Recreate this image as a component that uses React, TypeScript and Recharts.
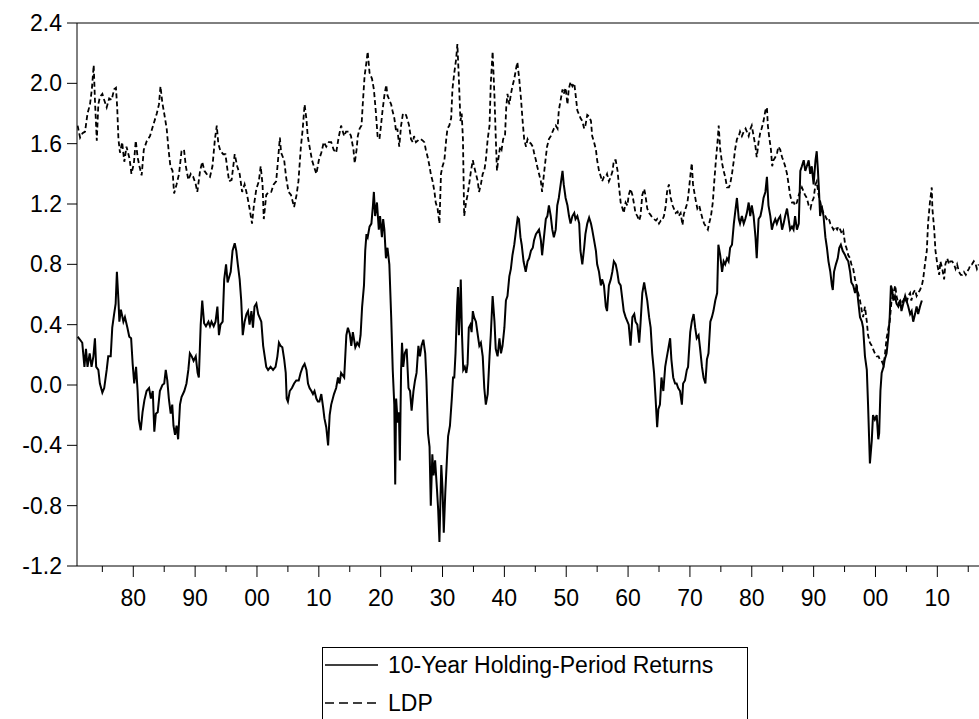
import React from 'react'
import { LineChart, Line, XAxis, YAxis, ReferenceLine } from 'recharts'

const ldpSeries: [number, number][] = [
  [1871.0, 1.72], [1871.4, 1.64], [1871.8, 1.67], [1872.2, 1.68], [1872.6, 1.8], [1873.0, 1.86], [1873.3, 1.96], [1873.6, 2.12],
  [1873.8, 1.89], [1874.1, 1.62], [1874.35, 1.86], [1874.6, 1.91], [1875.0, 1.93], [1875.3, 1.89], [1875.7, 1.84], [1876.1, 1.9],
  [1876.5, 1.89], [1876.9, 1.96], [1877.2, 1.97], [1877.4, 1.84], [1877.6, 1.63], [1877.85, 1.54], [1878.2, 1.61], [1878.55, 1.48],
  [1878.9, 1.58], [1879.4, 1.5], [1879.7, 1.4], [1880.1, 1.47], [1880.4, 1.62], [1880.7, 1.51], [1881.0, 1.45], [1881.35, 1.39],
  [1881.7, 1.56], [1882.2, 1.62], [1882.7, 1.65], [1883.2, 1.72], [1883.8, 1.8], [1884.15, 1.86], [1884.4, 1.98], [1884.7, 1.87],
  [1885.0, 1.8], [1885.4, 1.7], [1885.7, 1.56], [1886.0, 1.45], [1886.35, 1.42], [1886.6, 1.27], [1887.0, 1.33], [1887.4, 1.4],
  [1887.8, 1.55], [1888.2, 1.56], [1888.5, 1.45], [1888.9, 1.36], [1889.3, 1.4], [1889.7, 1.38], [1890.1, 1.33], [1890.35, 1.28],
  [1890.8, 1.42], [1891.15, 1.48], [1891.5, 1.42], [1891.85, 1.4], [1892.4, 1.38], [1892.8, 1.45], [1893.2, 1.63], [1893.5, 1.72],
  [1893.75, 1.6], [1894.1, 1.55], [1894.55, 1.53], [1894.9, 1.53], [1895.25, 1.42], [1895.5, 1.35], [1895.9, 1.36], [1896.4, 1.53],
  [1896.8, 1.45], [1897.2, 1.4], [1897.6, 1.28], [1898.0, 1.33], [1898.4, 1.26], [1898.8, 1.17], [1899.2, 1.07], [1899.5, 1.19],
  [1899.9, 1.3], [1900.3, 1.35], [1900.6, 1.45], [1900.9, 1.33], [1901.1, 1.1], [1901.5, 1.26], [1901.9, 1.28], [1902.3, 1.28],
  [1902.7, 1.33], [1903.1, 1.35], [1903.4, 1.49], [1903.7, 1.64], [1903.9, 1.54], [1904.4, 1.49], [1904.7, 1.38], [1905.1, 1.28],
  [1905.5, 1.26], [1906.0, 1.18], [1906.4, 1.26], [1906.7, 1.35], [1907.1, 1.58], [1907.4, 1.7], [1907.7, 1.86], [1908.0, 1.76],
  [1908.2, 1.65], [1908.5, 1.58], [1908.9, 1.49], [1909.2, 1.45], [1909.6, 1.4], [1910.0, 1.49], [1910.4, 1.54], [1910.8, 1.61],
  [1911.2, 1.58], [1911.6, 1.61], [1912.0, 1.61], [1912.4, 1.56], [1912.8, 1.54], [1913.2, 1.64], [1913.6, 1.72], [1914.1, 1.65],
  [1914.4, 1.68], [1914.9, 1.68], [1915.2, 1.65], [1915.6, 1.56], [1915.8, 1.47], [1916.1, 1.56], [1916.3, 1.65], [1916.6, 1.7],
  [1916.9, 1.72], [1917.1, 1.86], [1917.4, 2.05], [1917.7, 2.14], [1917.9, 2.21], [1918.2, 2.07], [1918.6, 2.03], [1918.9, 1.96],
  [1919.2, 1.82], [1919.5, 1.65], [1919.8, 1.63], [1920.05, 1.72], [1920.3, 1.82], [1920.6, 1.92], [1920.9, 1.99], [1921.1, 1.92],
  [1921.4, 1.89], [1921.7, 1.86], [1921.9, 1.82], [1922.2, 1.77], [1922.5, 1.68], [1922.7, 1.7], [1923.0, 1.58], [1923.3, 1.72],
  [1923.6, 1.8], [1923.8, 1.8], [1924.1, 1.79], [1924.4, 1.75], [1924.6, 1.72], [1924.9, 1.63], [1925.2, 1.61], [1925.4, 1.65],
  [1925.7, 1.61], [1926.0, 1.62], [1926.2, 1.63], [1926.5, 1.63], [1926.8, 1.62], [1927.05, 1.61], [1927.3, 1.56], [1927.6, 1.51],
  [1927.9, 1.45], [1928.1, 1.4], [1928.4, 1.35], [1928.7, 1.28], [1928.9, 1.21], [1929.2, 1.17], [1929.5, 1.07], [1929.75, 1.4],
  [1930.0, 1.45], [1930.3, 1.49], [1930.6, 1.63], [1930.8, 1.7], [1931.1, 1.72], [1931.4, 1.77], [1931.6, 1.96], [1931.9, 2.07],
  [1932.2, 2.16], [1932.4, 2.26], [1932.6, 2.07], [1932.9, 1.75], [1933.1, 1.8], [1933.3, 1.63], [1933.5, 1.12], [1933.8, 1.21],
  [1934.05, 1.26], [1934.3, 1.33], [1934.6, 1.42], [1934.9, 1.49], [1935.1, 1.45], [1935.4, 1.4], [1935.7, 1.35], [1935.9, 1.28],
  [1936.2, 1.33], [1936.5, 1.4], [1936.75, 1.42], [1937.0, 1.49], [1937.3, 1.63], [1937.6, 1.72], [1937.8, 2.0], [1938.1, 2.21],
  [1938.4, 1.91], [1938.6, 1.65], [1938.8, 1.42], [1939.0, 1.49], [1939.3, 1.58], [1939.55, 1.56], [1939.8, 1.63], [1940.1, 1.65],
  [1940.3, 1.84], [1940.5, 1.93], [1940.8, 1.86], [1941.06, 1.93], [1941.3, 1.98], [1941.6, 2.03], [1941.9, 2.1], [1942.1, 2.14],
  [1942.4, 2.03], [1942.7, 1.89], [1942.95, 1.75], [1943.2, 1.63], [1943.5, 1.58], [1943.75, 1.63], [1944.0, 1.61], [1944.3, 1.6],
  [1944.6, 1.58], [1944.8, 1.54], [1945.1, 1.49], [1945.3, 1.45], [1945.6, 1.4], [1945.9, 1.35], [1946.1, 1.28], [1946.4, 1.4],
  [1946.7, 1.51], [1946.9, 1.58], [1947.2, 1.63], [1947.5, 1.65], [1947.8, 1.68], [1948.0, 1.7], [1948.3, 1.72], [1948.6, 1.7],
  [1948.8, 1.82], [1949.1, 1.89], [1949.4, 1.96], [1949.6, 1.93], [1949.9, 1.97], [1950.2, 1.86], [1950.4, 1.96], [1950.7, 2.01],
  [1951.0, 1.98], [1951.3, 2.0], [1951.5, 1.93], [1951.8, 1.82], [1952.1, 1.79], [1952.3, 1.77], [1952.6, 1.75], [1952.9, 1.7],
  [1953.1, 1.72], [1953.4, 1.79], [1953.7, 1.78], [1954.0, 1.75], [1954.2, 1.65], [1954.5, 1.61], [1954.8, 1.56], [1955.0, 1.49],
  [1955.3, 1.42], [1955.6, 1.38], [1955.8, 1.35], [1956.1, 1.38], [1956.4, 1.38], [1956.6, 1.4], [1956.9, 1.35], [1957.2, 1.38],
  [1957.5, 1.42], [1957.7, 1.49], [1958.0, 1.49], [1958.3, 1.42], [1958.5, 1.33], [1958.8, 1.21], [1959.1, 1.17], [1959.3, 1.14],
  [1959.6, 1.21], [1959.9, 1.19], [1960.1, 1.26], [1960.4, 1.3], [1960.7, 1.26], [1961.0, 1.19], [1961.2, 1.14], [1961.5, 1.12],
  [1961.8, 1.09], [1962.0, 1.12], [1962.3, 1.26], [1962.6, 1.3], [1962.8, 1.26], [1963.1, 1.17], [1963.4, 1.14], [1963.6, 1.13],
  [1963.9, 1.11], [1964.2, 1.1], [1964.5, 1.09], [1964.7, 1.1], [1965.0, 1.07], [1965.3, 1.09], [1965.5, 1.09], [1965.8, 1.12],
  [1966.1, 1.19], [1966.3, 1.28], [1966.6, 1.33], [1966.9, 1.24], [1967.2, 1.19], [1967.4, 1.17], [1967.7, 1.14], [1968.0, 1.15],
  [1968.2, 1.12], [1968.5, 1.14], [1968.8, 1.06], [1969.0, 1.13], [1969.3, 1.17], [1969.6, 1.21], [1969.8, 1.28], [1970.1, 1.4],
  [1970.3, 1.47], [1970.5, 1.33], [1970.7, 1.28], [1971.0, 1.21], [1971.2, 1.17], [1971.5, 1.19], [1971.8, 1.14], [1972.05, 1.1],
  [1972.3, 1.07], [1972.6, 1.05], [1972.9, 1.03], [1973.1, 1.07], [1973.4, 1.12], [1973.7, 1.21], [1973.9, 1.33], [1974.2, 1.49],
  [1974.5, 1.63], [1974.65, 1.72], [1974.9, 1.56], [1975.2, 1.47], [1975.45, 1.42], [1975.7, 1.38], [1976.0, 1.31], [1976.3, 1.31],
  [1976.5, 1.33], [1976.8, 1.4], [1977.1, 1.49], [1977.3, 1.56], [1977.6, 1.63], [1977.9, 1.65], [1978.1, 1.68], [1978.4, 1.65],
  [1978.7, 1.68], [1979.0, 1.7], [1979.2, 1.68], [1979.5, 1.65], [1979.8, 1.7], [1980.0, 1.72], [1980.3, 1.65], [1980.6, 1.58],
  [1980.8, 1.51], [1981.1, 1.61], [1981.4, 1.68], [1981.6, 1.7], [1981.9, 1.75], [1982.2, 1.82], [1982.45, 1.84], [1982.6, 1.72],
  [1982.8, 1.65], [1983.1, 1.56], [1983.3, 1.45], [1983.5, 1.49], [1983.8, 1.51], [1984.1, 1.54], [1984.3, 1.58], [1984.6, 1.56],
  [1984.9, 1.51], [1985.1, 1.49], [1985.4, 1.45], [1985.7, 1.4], [1985.95, 1.33], [1986.2, 1.26], [1986.5, 1.21], [1986.8, 1.21],
  [1987.0, 1.19], [1987.3, 1.21], [1987.6, 1.26], [1987.8, 1.28], [1988.1, 1.31], [1988.4, 1.28], [1988.6, 1.26], [1988.9, 1.24],
  [1989.2, 1.19], [1989.5, 1.17], [1989.7, 1.21], [1990.0, 1.24], [1990.3, 1.33], [1990.5, 1.35], [1990.8, 1.26], [1991.1, 1.21],
  [1991.3, 1.17], [1991.6, 1.14], [1991.9, 1.12], [1992.1, 1.1], [1992.4, 1.11], [1992.7, 1.07], [1992.95, 1.05], [1993.2, 1.03],
  [1993.5, 1.05], [1993.8, 1.03], [1994.0, 1.05], [1994.3, 1.03], [1994.6, 1.0], [1994.8, 1.02], [1995.1, 0.93], [1995.3, 0.91],
  [1995.6, 0.86], [1995.9, 0.84], [1996.1, 0.8], [1996.4, 0.77], [1996.7, 0.7], [1996.95, 0.66], [1997.2, 0.61], [1997.5, 0.56],
  [1997.8, 0.49], [1998.0, 0.45], [1998.3, 0.52], [1998.6, 0.42], [1998.8, 0.33], [1999.1, 0.28], [1999.4, 0.26], [1999.6, 0.24],
  [1999.9, 0.21], [2000.2, 0.19], [2000.5, 0.19], [2000.7, 0.17], [2001.0, 0.16], [2001.3, 0.13], [2001.5, 0.19], [2001.8, 0.31],
  [2002.1, 0.38], [2002.3, 0.42], [2002.6, 0.56], [2002.9, 0.61], [2003.2, 0.66], [2003.4, 0.59], [2003.7, 0.54], [2004.0, 0.56],
  [2004.2, 0.54], [2004.5, 0.56], [2004.8, 0.59], [2005.0, 0.54], [2005.3, 0.59], [2005.6, 0.61], [2005.8, 0.56], [2006.1, 0.61],
  [2006.4, 0.63], [2006.65, 0.59], [2006.9, 0.61], [2007.2, 0.63], [2007.5, 0.66], [2007.7, 0.7], [2008.0, 0.8], [2008.3, 0.89],
  [2008.5, 1.07], [2008.8, 1.21], [2009.1, 1.31], [2009.2, 1.17], [2009.5, 1.03], [2009.7, 0.89], [2010.0, 0.8], [2010.3, 0.73],
  [2010.5, 0.82], [2010.8, 0.77], [2011.1, 0.7], [2011.3, 0.8], [2011.6, 0.84], [2011.9, 0.8], [2012.1, 0.82], [2012.4, 0.82],
  [2012.7, 0.8], [2012.95, 0.77], [2013.2, 0.8], [2013.5, 0.75], [2013.8, 0.73], [2014.0, 0.73], [2014.3, 0.75], [2014.6, 0.73],
  [2014.8, 0.75], [2015.1, 0.77], [2015.4, 0.8], [2015.6, 0.8], [2015.9, 0.82], [2016.2, 0.8], [2016.4, 0.77], [2016.7, 0.8],
]

const returnSeries: [number, number][] = [
  [1871.0, 0.32], [1871.4, 0.3], [1871.75, 0.28], [1872.1, 0.12], [1872.35, 0.24], [1872.6, 0.12], [1872.95, 0.21], [1873.25, 0.12],
  [1873.55, 0.19], [1873.8, 0.31], [1874.0, 0.12], [1874.35, 0.1], [1874.6, 0.01], [1875.0, -0.05], [1875.3, -0.02], [1875.7, 0.1],
  [1875.95, 0.19], [1876.35, 0.19], [1876.6, 0.38], [1876.9, 0.47], [1877.15, 0.54], [1877.35, 0.75], [1877.6, 0.56], [1877.75, 0.42],
  [1878.0, 0.5], [1878.4, 0.42], [1878.65, 0.45], [1879.05, 0.38], [1879.35, 0.32], [1879.65, 0.31], [1879.9, 0.14], [1880.15, 0.01],
  [1880.45, 0.12], [1880.7, -0.04], [1880.9, -0.23], [1881.2, -0.3], [1881.5, -0.18], [1881.8, -0.1], [1882.15, -0.04], [1882.55, -0.02],
  [1882.85, -0.09], [1883.15, -0.04], [1883.4, -0.31], [1883.65, -0.19], [1883.95, -0.18], [1884.3, -0.04], [1884.7, 0.0], [1885.0, 0.01],
  [1885.25, 0.1], [1885.5, 0.03], [1885.75, -0.09], [1886.05, -0.19], [1886.3, -0.13], [1886.5, -0.27], [1886.75, -0.33], [1887.0, -0.27],
  [1887.25, -0.36], [1887.55, -0.13], [1887.8, -0.08], [1888.25, -0.04], [1888.6, 0.01], [1888.9, 0.1], [1889.15, 0.21], [1889.45, 0.19],
  [1889.75, 0.16], [1890.1, 0.19], [1890.4, 0.08], [1890.6, 0.05], [1890.9, 0.4], [1891.15, 0.56], [1891.45, 0.41], [1891.75, 0.39],
  [1892.15, 0.42], [1892.4, 0.39], [1892.65, 0.42], [1893.0, 0.39], [1893.3, 0.42], [1893.6, 0.52], [1893.85, 0.33], [1894.1, 0.4],
  [1894.45, 0.42], [1894.7, 0.7], [1895.0, 0.8], [1895.25, 0.68], [1895.75, 0.75], [1896.05, 0.89], [1896.4, 0.94], [1896.65, 0.89],
  [1896.9, 0.8], [1897.2, 0.7], [1897.45, 0.56], [1897.7, 0.33], [1898.0, 0.42], [1898.3, 0.47], [1898.55, 0.49], [1898.8, 0.4],
  [1899.1, 0.49], [1899.35, 0.38], [1899.6, 0.52], [1899.9, 0.54], [1900.2, 0.47], [1900.4, 0.45], [1900.7, 0.42], [1901.0, 0.26],
  [1901.25, 0.19], [1901.5, 0.12], [1901.8, 0.1], [1902.2, 0.12], [1902.6, 0.1], [1903.0, 0.12], [1903.3, 0.19], [1903.55, 0.28],
  [1903.8, 0.26], [1904.1, 0.25], [1904.4, 0.17], [1904.65, 0.08], [1904.8, -0.09], [1905.0, -0.11], [1905.3, -0.04], [1905.65, -0.02],
  [1906.0, 0.01], [1906.35, 0.03], [1906.75, 0.03], [1907.05, 0.08], [1907.4, 0.12], [1907.7, 0.14], [1908.0, 0.1], [1908.25, 0.01],
  [1908.5, -0.02], [1908.8, -0.04], [1909.05, -0.06], [1909.3, -0.04], [1909.6, -0.09], [1909.85, -0.11], [1910.1, -0.11], [1910.4, -0.06],
  [1910.7, -0.15], [1910.9, -0.22], [1911.2, -0.28], [1911.5, -0.4], [1911.75, -0.2], [1912.0, -0.13], [1912.45, -0.06], [1912.8, -0.02],
  [1913.1, 0.05], [1913.35, 0.01], [1913.6, 0.08], [1914.1, 0.05], [1914.45, 0.33], [1914.7, 0.38], [1915.0, 0.34], [1915.25, 0.26],
  [1915.5, 0.35], [1915.9, 0.25], [1916.2, 0.28], [1916.5, 0.26], [1916.75, 0.33], [1917.0, 0.52], [1917.3, 0.66], [1917.5, 0.89],
  [1917.7, 1.0], [1917.9, 0.98], [1918.2, 1.05], [1918.5, 1.07], [1918.75, 1.19], [1918.9, 1.28], [1919.1, 1.12], [1919.4, 1.21],
  [1919.7, 1.03], [1919.9, 1.12], [1920.2, 0.98], [1920.4, 1.1], [1920.6, 1.03], [1920.85, 0.84], [1921.1, 0.91], [1921.4, 0.8],
  [1921.7, 0.45], [1921.95, 0.1], [1922.2, -0.13], [1922.35, -0.66], [1922.5, -0.09], [1922.75, -0.25], [1922.95, -0.18], [1923.1, -0.5],
  [1923.3, 0.1], [1923.45, 0.28], [1923.65, 0.12], [1923.9, 0.21], [1924.2, 0.24], [1924.5, -0.02], [1924.75, -0.04], [1925.0, -0.17],
  [1925.3, -0.04], [1925.55, 0.03], [1925.8, 0.08], [1926.1, 0.26], [1926.35, 0.19], [1926.6, 0.26], [1926.9, 0.3], [1927.2, 0.21],
  [1927.4, 0.03], [1927.65, -0.32], [1927.9, -0.41], [1928.1, -0.8], [1928.35, -0.46], [1928.55, -0.6], [1928.8, -0.5], [1929.1, -0.69],
  [1929.3, -0.83], [1929.5, -1.04], [1929.65, -0.78], [1929.8, -0.53], [1930.0, -0.69], [1930.2, -0.98], [1930.45, -0.71], [1930.7, -0.5],
  [1930.9, -0.34], [1931.2, -0.27], [1931.5, -0.09], [1931.7, 0.05], [1931.9, 0.05], [1932.1, 0.21], [1932.35, 0.52], [1932.5, 0.65],
  [1932.65, 0.33], [1932.8, 0.49], [1932.95, 0.7], [1933.15, 0.33], [1933.35, 0.1], [1933.6, 0.12], [1933.85, 0.08], [1934.05, 0.14],
  [1934.25, 0.38], [1934.5, 0.4], [1934.7, 0.35], [1934.9, 0.49], [1935.1, 0.45], [1935.4, 0.42], [1935.7, 0.33], [1935.95, 0.26],
  [1936.2, 0.28], [1936.5, 0.19], [1936.75, -0.02], [1937.0, -0.13], [1937.3, -0.06], [1937.6, 0.19], [1937.8, 0.33], [1938.1, 0.59],
  [1938.4, 0.42], [1938.6, 0.24], [1938.9, 0.19], [1939.2, 0.31], [1939.45, 0.21], [1939.7, 0.26], [1940.0, 0.38], [1940.25, 0.56],
  [1940.5, 0.59], [1940.8, 0.72], [1941.05, 0.77], [1941.3, 0.86], [1941.6, 0.93], [1941.9, 1.03], [1942.15, 1.11], [1942.35, 1.1],
  [1942.6, 0.98], [1942.8, 0.93], [1943.1, 0.82], [1943.45, 0.75], [1943.75, 0.82], [1944.0, 0.84], [1944.3, 0.89], [1944.6, 0.91],
  [1944.8, 0.96], [1945.1, 1.0], [1945.6, 1.03], [1945.9, 0.96], [1946.1, 0.86], [1946.4, 0.98], [1946.7, 1.1], [1946.95, 1.12],
  [1947.2, 1.19], [1947.5, 1.12], [1947.75, 1.03], [1948.0, 0.98], [1948.3, 1.03], [1948.55, 1.19], [1948.8, 1.24], [1949.1, 1.33],
  [1949.4, 1.42], [1949.6, 1.33], [1949.9, 1.24], [1950.2, 1.19], [1950.45, 1.12], [1950.7, 1.07], [1951.0, 1.12], [1951.3, 1.14],
  [1951.5, 1.1], [1951.8, 1.12], [1952.1, 1.07], [1952.3, 0.89], [1952.6, 0.8], [1952.9, 0.91], [1953.1, 1.0], [1953.4, 1.07],
  [1953.7, 1.11], [1954.0, 1.07], [1954.2, 1.03], [1954.5, 0.96], [1954.8, 0.89], [1955.0, 0.8], [1955.3, 0.75], [1955.6, 0.66],
  [1955.8, 0.7], [1956.1, 0.66], [1956.4, 0.52], [1956.6, 0.49], [1956.9, 0.66], [1957.2, 0.7], [1957.45, 0.75], [1957.7, 0.82],
  [1958.0, 0.8], [1958.25, 0.75], [1958.5, 0.68], [1958.8, 0.66], [1959.1, 0.56], [1959.3, 0.49], [1959.6, 0.45], [1959.9, 0.42],
  [1960.1, 0.4], [1960.4, 0.26], [1960.7, 0.45], [1961.0, 0.47], [1961.2, 0.42], [1961.5, 0.4], [1961.8, 0.28], [1962.0, 0.4],
  [1962.3, 0.61], [1962.6, 0.68], [1962.8, 0.63], [1963.1, 0.56], [1963.4, 0.45], [1963.65, 0.38], [1963.9, 0.21], [1964.2, 0.08],
  [1964.45, -0.09], [1964.7, -0.28], [1964.9, -0.16], [1965.15, -0.13], [1965.4, 0.05], [1965.7, -0.04], [1966.0, 0.12], [1966.2, 0.17],
  [1966.5, 0.24], [1966.8, 0.31], [1967.0, 0.17], [1967.3, 0.05], [1967.6, 0.01], [1967.85, 0.01], [1968.1, -0.02], [1968.4, -0.04],
  [1968.7, -0.13], [1968.9, 0.01], [1969.2, 0.03], [1969.5, 0.1], [1969.7, 0.12], [1969.8, 0.19], [1970.05, 0.35], [1970.3, 0.42],
  [1970.6, 0.47], [1970.85, 0.38], [1971.1, 0.31], [1971.4, 0.33], [1971.65, 0.24], [1971.95, 0.12], [1972.2, 0.05], [1972.5, 0.01],
  [1972.75, 0.17], [1973.0, 0.21], [1973.3, 0.42], [1973.55, 0.45], [1973.8, 0.49], [1974.1, 0.56], [1974.4, 0.61], [1974.6, 0.93],
  [1974.9, 0.86], [1975.2, 0.75], [1975.45, 0.82], [1975.7, 0.8], [1976.0, 0.84], [1976.25, 0.82], [1976.5, 0.91], [1976.8, 0.93],
  [1977.1, 1.07], [1977.3, 1.14], [1977.6, 1.24], [1977.9, 1.1], [1978.1, 1.07], [1978.4, 1.12], [1978.7, 1.07], [1978.95, 1.1],
  [1979.2, 1.14], [1979.5, 1.21], [1979.75, 1.12], [1980.0, 1.19], [1980.3, 1.12], [1980.6, 0.98], [1980.8, 0.84], [1981.1, 1.1],
  [1981.4, 1.12], [1981.65, 1.17], [1981.9, 1.24], [1982.2, 1.28], [1982.45, 1.38], [1982.7, 1.19], [1983.0, 1.12], [1983.25, 1.03],
  [1983.5, 1.07], [1983.8, 1.1], [1984.05, 1.07], [1984.3, 1.1], [1984.6, 1.12], [1984.9, 1.03], [1985.15, 1.07], [1985.4, 1.12],
  [1985.7, 1.17], [1985.95, 1.1], [1986.2, 1.03], [1986.5, 1.05], [1986.75, 1.03], [1987.0, 1.12], [1987.3, 1.03], [1987.6, 1.07],
  [1987.85, 1.42], [1988.1, 1.45], [1988.4, 1.49], [1988.65, 1.42], [1988.9, 1.45], [1989.2, 1.49], [1989.45, 1.4], [1989.7, 1.45],
  [1990.0, 1.33], [1990.3, 1.49], [1990.5, 1.55], [1990.7, 1.42], [1990.9, 1.26], [1991.05, 1.12], [1991.3, 1.19], [1991.6, 1.12],
  [1991.9, 0.98], [1992.15, 0.91], [1992.4, 0.82], [1992.7, 0.75], [1992.95, 0.66], [1993.1, 0.63], [1993.3, 0.75], [1993.6, 0.8],
  [1993.9, 0.84], [1994.15, 0.91], [1994.4, 0.93], [1994.7, 0.89], [1995.1, 0.86], [1995.3, 0.84], [1995.6, 0.82], [1995.9, 0.75],
  [1996.1, 0.68], [1996.4, 0.66], [1996.7, 0.61], [1996.95, 0.66], [1997.2, 0.56], [1997.5, 0.45], [1997.8, 0.42], [1998.0, 0.38],
  [1998.3, 0.19], [1998.6, 0.1], [1998.8, -0.13], [1999.1, -0.52], [1999.4, -0.37], [1999.6, -0.2], [1999.9, -0.23], [2000.2, -0.2],
  [2000.45, -0.36], [2000.6, -0.32], [2000.8, -0.04], [2001.0, 0.08], [2001.3, 0.12], [2001.5, 0.17], [2001.8, 0.21], [2002.1, 0.33],
  [2002.3, 0.45], [2002.5, 0.66], [2002.7, 0.63], [2002.9, 0.56], [2003.15, 0.59], [2003.4, 0.54], [2003.7, 0.52], [2004.0, 0.56],
  [2004.2, 0.49], [2004.5, 0.54], [2004.8, 0.59], [2005.0, 0.56], [2005.3, 0.52], [2005.6, 0.47], [2005.85, 0.49], [2006.1, 0.42],
  [2006.4, 0.47], [2006.65, 0.52], [2006.9, 0.47], [2007.2, 0.52], [2007.5, 0.56],
]

const seriesNames = ['10-Year Holding-Period Returns', 'LDP']
const yTicks = [-1.2, -0.8, -0.4, 0, 0.4, 0.8, 1.2, 1.6, 2.0, 2.4]
const xTicks = [
  1875, 1880, 1885, 1890, 1895, 1900, 1905, 1910, 1915, 1920, 1925, 1930, 1935, 1940, 1945,
  1950, 1955, 1960, 1965, 1970, 1975, 1980, 1985, 1990, 1995, 2000, 2005, 2010, 2015,
]
const xDomain = [1870.9, 2016.9]
const yDomain = [-1.2, 2.4]

const returnData = returnSeries.map(([year, value]) => ({ year, ret: value }))
const ldpData = ldpSeries.map(([year, value]) => ({ year, ldp: value }))

const FONT = 'Arial, "Liberation Sans", Helvetica, sans-serif'

// decade ticks are long and labelled with two digits, half-decade ticks are short
const YearTick = ({ x, y, payload }: any) => {
  const year = payload.value
  const major = year % 10 === 0
  return (
    <g>
      <line x1={x} y1={y} x2={x} y2={y + (major ? 11 : 6)} stroke="#000" strokeWidth={1} />
      {major && (
        <text x={x} y={y + 40} textAnchor="middle" fontSize={23} fontFamily={FONT} fill="#000">
          {String(year % 100).padStart(2, '0')}
        </text>
      )}
    </g>
  )
}

const LegendBox = () => (
  <div
    style={{
      position: 'absolute',
      left: 322,
      top: 647,
      width: 424,
      height: 100,
      border: '1px solid #000',
      background: '#fff',
      fontFamily: FONT,
      fontSize: 23,
      color: '#000',
    }}
  >
    <div style={{ position: 'absolute', left: 2, top: 0, height: 34, display: 'flex', alignItems: 'center', whiteSpace: 'nowrap' }}>
      <svg width={53} height={4}>
        <line x1={0} y1={2} x2={53} y2={2} stroke="#000" strokeWidth={1.5} />
      </svg>
      <span style={{ marginLeft: 10 }}>{seriesNames[0]}</span>
    </div>
    <div style={{ position: 'absolute', left: 2, top: 38, height: 34, display: 'flex', alignItems: 'center', whiteSpace: 'nowrap' }}>
      <svg width={53} height={4}>
        <line x1={0} y1={2} x2={53} y2={2} stroke="#000" strokeWidth={1.5} strokeDasharray="9 5" />
      </svg>
      <span style={{ marginLeft: 10 }}>{seriesNames[1]}</span>
    </div>
  </div>
)

const App = () => {
  return (
    <div
      style={{
        position: 'absolute',
        left: 0,
        top: 0,
        width: 979,
        height: 719,
        overflow: 'hidden',
        background: '#fff',
      }}
    >
      <LineChart width={990} height={719} margin={{ top: 23, right: 10, bottom: 93, left: 0 }}>
        <XAxis
          dataKey="year"
          type="number"
          domain={xDomain}
          ticks={xTicks}
          interval={0}
          allowDataOverflow
          height={60}
          tickSize={0}
          tickMargin={0}
          tickLine={false}
          axisLine={{ stroke: '#000', strokeWidth: 1 }}
          tick={<YearTick />}
        />
        <YAxis
          type="number"
          domain={yDomain}
          ticks={yTicks}
          interval={0}
          allowDataOverflow
          width={77}
          tickSize={10}
          tickMargin={5}
          tickFormatter={(v: number) => v.toFixed(1)}
          axisLine={{ stroke: '#000', strokeWidth: 1 }}
          tickLine={{ stroke: '#000', strokeWidth: 1 }}
          tick={{ fill: '#000', fontSize: 23, fontFamily: FONT }}
        />
        <ReferenceLine y={2.4} stroke="#000" strokeWidth={1} />
        <Line
          data={ldpData}
          dataKey="ldp"
          name={seriesNames[1]}
          type="linear"
          stroke="#000"
          strokeWidth={1.8}
          strokeDasharray="5 3"
          dot={false}
          activeDot={false}
          isAnimationActive={false}
        />
        <Line
          data={returnData}
          dataKey="ret"
          name={seriesNames[0]}
          type="linear"
          stroke="#000"
          strokeWidth={2}
          dot={false}
          activeDot={false}
          isAnimationActive={false}
        />
      </LineChart>
      <LegendBox />
    </div>
  )
}

export default App
